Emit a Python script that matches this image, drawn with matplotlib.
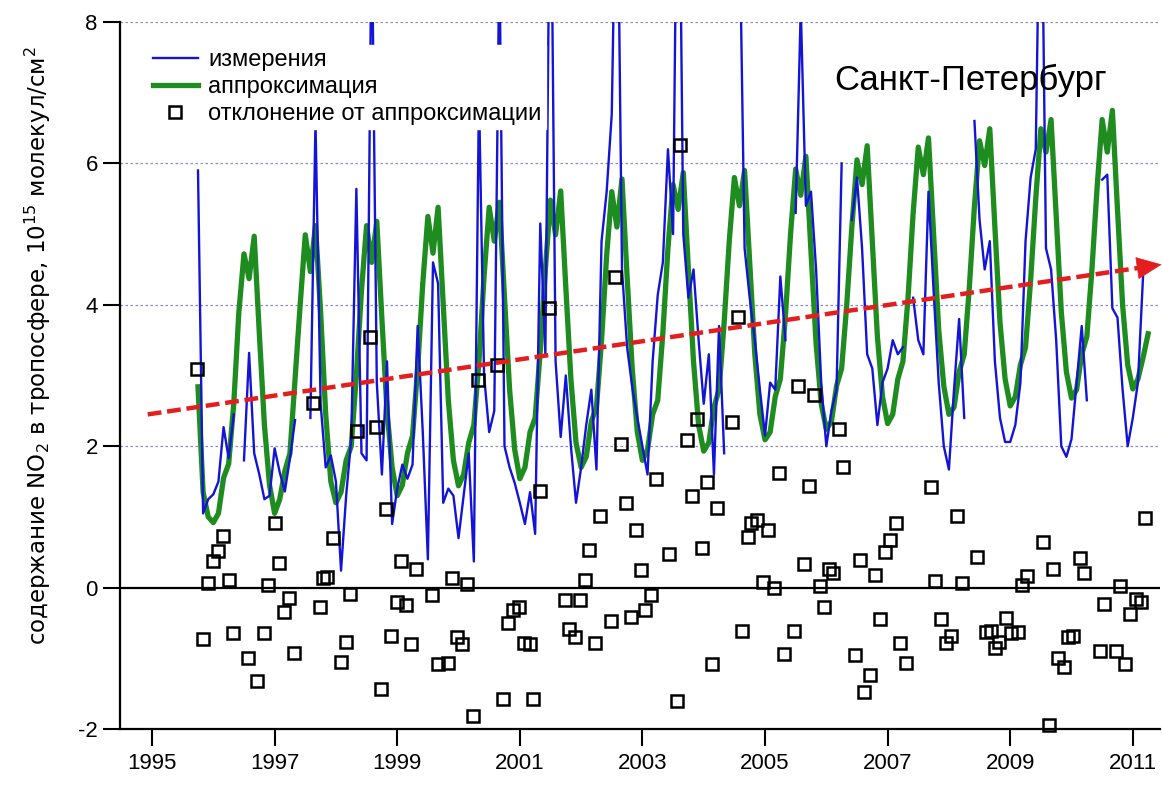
import numpy as np
import matplotlib
matplotlib.use('Agg')
import matplotlib.pyplot as plt
from matplotlib.lines import Line2D

plt.rcParams['font.family'] = ['Liberation Sans', 'DejaVu Sans']
plt.rcParams['axes.unicode_minus'] = False
plt.rcParams['mathtext.fontset'] = 'custom'
plt.rcParams['mathtext.rm'] = 'DejaVu Sans'
plt.rcParams['mathtext.it'] = 'DejaVu Sans:italic'
plt.rcParams['mathtext.bf'] = 'DejaVu Sans:bold'

# ---------------- data ----------------
start_year = 1995.75          # first monthly sample (Oct 1995)

# approximation (monthly)
green = [2.84, 1.35, 1.0,
         0.92, 1.05, 1.55, 1.75, 2.6, 3.9, 4.72, 4.37, 4.97, 3.6, 2.3, 1.45,
         1.05, 1.25, 1.65, 1.9, 2.95, 4.0, 4.99, 4.47, 5.12, 3.9, 2.45, 1.5,
         1.2, 1.35, 1.8, 2.0, 3.0, 4.2, 5.12, 4.6, 5.18, 3.8, 2.5, 1.7,
         1.3, 1.45, 1.9, 2.15, 3.1, 4.3, 5.25, 4.73, 5.38, 4.0, 2.65, 1.8,
         1.44, 1.6, 2.05, 2.3, 3.2, 4.4, 5.38, 4.9, 5.45, 4.1, 2.8, 1.95,
         1.54, 1.7, 2.2, 2.4, 3.35, 4.5, 5.48, 4.99, 5.61, 4.25, 2.95, 2.05,
         1.7, 1.85, 2.35, 2.55, 3.5, 4.7, 5.6, 5.1, 5.78, 4.4, 3.1, 2.2,
         1.8, 1.95, 2.45, 2.65, 3.6, 4.8, 5.7, 5.35, 5.87, 4.5, 3.2, 2.3,
         1.93, 2.05, 2.55, 2.8, 3.75, 4.9, 5.8, 5.4, 5.9, 4.6, 3.3, 2.45,
         2.09, 2.2, 2.7, 2.95, 3.85, 5.0, 5.92, 5.55, 6.1, 4.75, 3.45, 2.6,
         2.24, 2.35, 2.85, 3.1, 4.0, 5.1, 6.05, 5.7, 6.25, 4.9, 3.55, 2.7,
         2.32, 2.45, 2.95, 3.2, 4.1, 5.3, 6.23, 5.84, 6.36, 5.0, 3.65, 2.85,
         2.45, 2.55, 3.05, 3.3, 4.25, 5.4, 6.32, 5.97, 6.49, 5.1, 3.75, 2.95,
         2.57, 2.7, 3.15, 3.4, 4.35, 5.5, 6.49, 6.16, 6.62, 5.25, 3.9, 3.05,
         2.68, 2.8, 3.3, 3.55, 4.5, 5.65, 6.62, 6.16, 6.75, 5.35, 4.0, 3.15,
         2.81, 2.95, 3.25, 3.59]

nan = np.nan
# measurements (monthly, gaps = nan)
blue = [5.9, 1.05, 1.25,
        1.32, 1.5, 2.27, 1.83, 2.45, nan, 1.8, 3.32, 1.9, 1.6, 1.25, 1.3,
        1.97, 1.63, 1.36, 1.83, 2.37, nan, nan, 2.4, 6.6, 2.6, 1.7, 1.87,
        1.5, 0.24, 1.3, 2.1, 5.64, 1.9, 1.8, 9.5, 2.9, 1.6, 3.2, 0.9,
        1.4, 1.74, 1.54, 1.74, 3.7, 2.2, 0.4, 4.6, 4.3, 1.2, 1.4, 1.3,
        0.7, 1.3, 1.9, 0.37, 7.0, 3.0, 2.2, 2.5, 9.0, 2.0, 1.7, 1.48,
        1.2, 0.9, 1.35, 0.76, 5.15, 3.3, 11.0, 3.2, 2.13, 3.0, 2.0, 1.2,
        1.7, 2.3, 2.8, 1.67, 4.9, 5.6, 6.7, 11.0, 4.5, 3.4, 2.84, 2.4,
        2.0, 1.6, 3.2, 4.14, 4.6, 6.2, 5.0, 12.0, 5.0, 4.1, 4.5, 3.5,
        2.6, 3.3, 1.6, 3.7, 1.9, nan, nan, 9.5, 4.8, 4.1, 3.5, 2.8,
        2.15, 2.9, 2.8, 4.4, 3.5, nan, 5.3, 8.2, 5.4, 5.6, 4.5, 2.9,
        2.0, 2.5, 2.8, 6.0, nan, 5.2, 5.8, 4.8, 3.3, 3.1, 2.3, 2.9,
        3.1, 3.5, 3.3, 3.4, nan, 4.1, 3.5, 3.3, 5.6, 4.2, 2.9, 2.0,
        1.67, 2.8, 3.8, 2.4, nan, 6.6, 5.2, 4.5, 4.9, 3.2, 2.4, 2.06,
        2.06, 2.3, 2.9, 4.9, 5.8, 6.2, 11.0, 4.8, 4.5, 3.5, 2.0, 1.85,
        2.1, 2.9, 3.7, 2.65, nan, nan, 5.77, 5.84, 3.95, 3.82, 2.8, 2.0,
        2.4, 2.9, 4.4]

# deviation from approximation
dev_years = [1995.74, 1995.83, 1995.92, 1995.99, 1996.08, 1996.16, 1996.25, 1996.32,
             1996.56, 1996.71, 1996.83, 1996.89, 1997.00, 1997.07, 1997.15, 1997.23,
             1997.32, 1997.63, 1997.74, 1997.79, 1997.85, 1997.95, 1998.08, 1998.16,
             1998.23, 1998.35, 1998.56, 1998.66, 1998.74, 1998.82, 1998.90, 1998.99,
             1999.06, 1999.15, 1999.23, 1999.30, 1999.56, 1999.66, 1999.83, 1999.90,
             1999.98, 2000.05, 2000.14, 2000.24, 2000.31, 2000.63, 2000.72, 2000.80,
             2000.89, 2000.98, 2001.06, 2001.17, 2001.22, 2001.33, 2001.48, 2001.73,
             2001.80, 2001.90, 2001.98, 2002.07, 2002.13, 2002.23, 2002.31, 2002.48,
             2002.55, 2002.65, 2002.73, 2002.81, 2002.89, 2002.97, 2003.05, 2003.14,
             2003.22, 2003.43, 2003.56, 2003.62, 2003.72, 2003.81, 2003.89, 2003.97,
             2004.05, 2004.13, 2004.21, 2004.46, 2004.56, 2004.63, 2004.73, 2004.77,
             2004.87, 2004.96, 2005.05, 2005.15, 2005.22, 2005.31, 2005.47, 2005.54,
             2005.64, 2005.71, 2005.80, 2005.90, 2005.96, 2006.05, 2006.11, 2006.20,
             2006.27, 2006.46, 2006.55, 2006.62, 2006.71, 2006.80, 2006.88, 2006.95,
             2007.04, 2007.14, 2007.21, 2007.30, 2007.71, 2007.78, 2007.87, 2007.96,
             2008.03, 2008.13, 2008.21, 2008.46, 2008.60, 2008.68, 2008.76, 2008.81,
             2008.93, 2009.02, 2009.12, 2009.20, 2009.28, 2009.54, 2009.63, 2009.70,
             2009.78, 2009.87, 2009.95, 2010.03, 2010.14, 2010.21, 2010.46, 2010.53,
             2010.73, 2010.79, 2010.88, 2010.96, 2011.05, 2011.13, 2011.20]
dev_values = [3.09, -0.73, 0.06, 0.38, 0.52, 0.73, 0.11, -0.64,
              -0.99, -1.32, -0.64, 0.04, 0.92, 0.35, -0.34, -0.15,
              -0.93, 2.61, -0.28, 0.13, 0.15, 0.70, -1.05, -0.77,
              -0.09, 2.21, 3.54, 2.27, -1.44, 1.11, -0.68, -0.20,
              0.37, -0.25, -0.80, 0.26, -0.10, -1.08, -1.07, 0.13,
              -0.70, -0.80, 0.05, -1.81, 2.93, 3.15, -1.58, -0.50,
              -0.31, -0.28, -0.79, -0.80, -1.58, 1.37, 3.95, -0.18,
              -0.58, -0.70, -0.18, 0.11, 0.53, -0.79, 1.02, -0.47,
              4.40, 2.03, 1.20, -0.42, 0.81, 0.25, -0.31, -0.10,
              1.54, 0.47, -1.60, 6.26, 2.09, 1.30, 2.39, 0.56,
              1.49, -1.08, 1.13, 2.34, 3.83, -0.62, 0.72, 0.91,
              0.95, 0.08, 0.82, -0.01, 1.62, -0.94, -0.61, 2.85,
              0.33, 1.44, 2.72, 0.02, -0.27, 0.26, 0.21, 2.25,
              1.70, -0.96, 0.39, -1.47, -1.23, 0.18, -0.45, 0.51,
              0.68, 0.91, -0.79, -1.07, 1.43, 0.10, -0.44, -0.79,
              -0.69, 1.02, 0.06, 0.44, -0.63, -0.61, -0.85, -0.77,
              -0.43, -0.64, -0.63, 0.04, 0.17, 0.65, -1.95, 0.26,
              -1.00, -1.12, -0.70, -0.68, 0.42, 0.21, -0.90, -0.23,
              -0.90, 0.02, -1.08, -0.38, -0.16, -0.20, 0.99]

# linear trend (arrow)
trend_years = [1994.93, 2011.47]
trend_values = [2.45, 4.57]

xticks = [1995, 1997, 1999, 2001, 2003, 2005, 2007, 2009, 2011]
yticks = [-2, 0, 2, 4, 6, 8]
grid_levels = [2, 4, 6, 8]

labels = ['измерения', 'аппроксимация', 'отклонение от аппроксимации']
city = 'Санкт-Петербург'
ylabel = 'содержание NO$_2$ в тропосфере, 10$^{15}$ молекул/см$^2$'

# ---------------- plot ----------------
c_blue = '#1414d6'
c_green = '#1f8c1f'
c_red = '#e41e1e'

t_green = start_year + np.arange(len(green)) / 12.0
t_blue = start_year + np.arange(len(blue)) / 12.0

fig = plt.figure(figsize=(11.62, 7.85), dpi=100)
ax = fig.add_axes([0.1033, 0.0713, 0.895, 0.9007])
ax.set_xlim(1994.478, 2011.444)
ax.set_ylim(-2, 8)

for g in grid_levels:
    ax.axhline(g, color='#8c8cc4', lw=0.9, ls=(0, (2, 2)), zorder=0)
ax.axhline(0, color='black', lw=1.6, zorder=1)

ax.plot(t_green, green, color=c_green, lw=3.8, zorder=2)
ax.plot(t_blue, blue, color=c_blue, lw=1.7, zorder=3)
ax.plot(dev_years, dev_values, ls='none', marker='s', ms=8.8, mfc='none',
        mec='black', mew=1.8, zorder=4, clip_on=False)

# trend arrow
base_year = 2011.08
base_val = np.interp(base_year, trend_years, trend_values)
ax.plot([trend_years[0], base_year], [trend_values[0], base_val], color=c_red,
        lw=3.2, dashes=(3.1, 1.3), zorder=5, dash_capstyle='butt')
ax.annotate('', xy=(trend_years[1], trend_values[1]), xytext=(base_year, base_val),
            arrowprops=dict(arrowstyle='-|>,head_length=0.85,head_width=0.38',
                            color=c_red, lw=0.5, mutation_scale=20,
                            shrinkA=0, shrinkB=0),
            annotation_clip=False, zorder=5)

ax.set_xticks(xticks)
ax.set_yticks(yticks)
ax.tick_params(direction='out', length=12, width=1.5, labelsize=16, color='black')
ax.tick_params(axis='x', pad=5)
ax.tick_params(axis='y', pad=4)
for s in ['top', 'right']:
    ax.spines[s].set_visible(False)
for s in ['left', 'bottom']:
    ax.spines[s].set_linewidth(1.6)

handles = [Line2D([], [], color=c_blue, lw=1.7),
           Line2D([], [], color=c_green, lw=3.8),
           Line2D([], [], ls='none', marker='s', ms=8.8, mfc='none', mec='black', mew=1.8)]
leg = ax.legend(handles, labels, loc='upper left', bbox_to_anchor=(0.027, 0.968),
                borderaxespad=0, frameon=True, fancybox=False, facecolor='white',
                edgecolor='white', framealpha=1, fontsize=17, handlelength=1.9,
                handletextpad=0.45, labelspacing=0.2, borderpad=0.2)
leg.set_zorder(10)

ax.text(0.818, 0.904, city, transform=ax.transAxes, fontsize=25,
        ha='center', va='baseline', zorder=11)

fig.text(38 / 1162, 0.56, ylabel, rotation=90, fontsize=16.5, ha='center', va='center',
         family=['DejaVu Sans'])

fig.savefig('out.png', dpi=100)
